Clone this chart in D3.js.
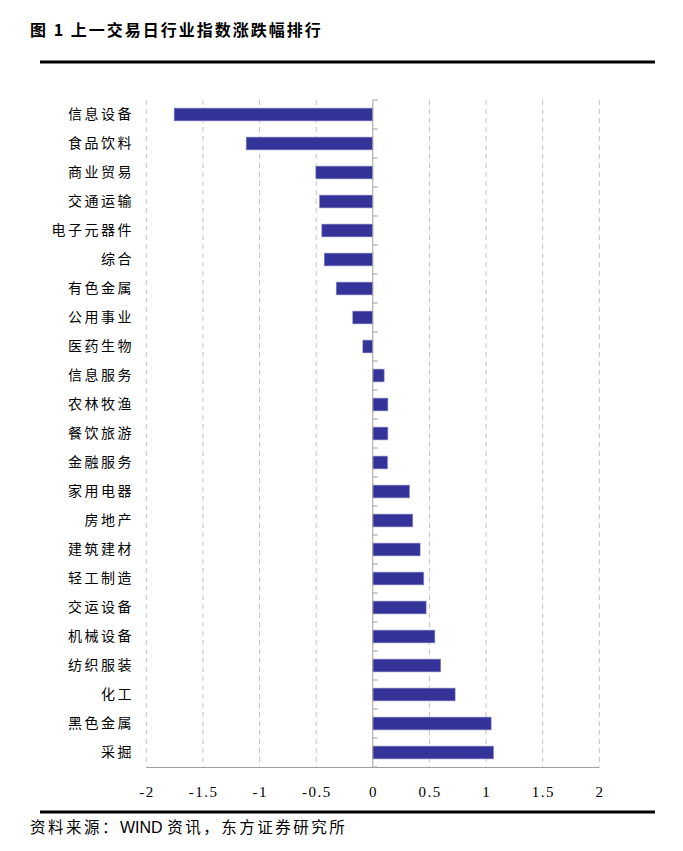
<!DOCTYPE html>
<html>
<head>
<meta charset="utf-8">
<script src="https://cdn.jsdelivr.net/npm/d3@7"></script>
<style>
html,body{margin:0;padding:0;background:#fff;}
svg{display:block;}
</style>
</head>
<body>
<svg id="chart" width="683" height="851"></svg>
<script>
const categories = ["信息设备","食品饮料","商业贸易","交通运输","电子元器件","综合","有色金属","公用事业","医药生物","信息服务","农林牧渔","餐饮旅游","金融服务","家用电器","房地产","建筑建材","轻工制造","交运设备","机械设备","纺织服装","化工","黑色金属","采掘"];
const values = [-1.754,-1.118,-0.503,-0.471,-0.45,-0.429,-0.323,-0.177,-0.088,0.10,0.133,0.133,0.13,0.324,0.353,0.418,0.45,0.471,0.548,0.60,0.727,1.045,1.066];
const tickValues = [-2,-1.5,-1,-0.5,0,0.5,1,1.5,2];
const tickLabels = ["-2","-1.5","-1","-0.5","0","0.5","1","1.5","2"];
const titleText = "图 1 上一交易日行业指数涨跌幅排行";
const sourceParts = ["资料来源：", "WIND ", "资讯，东方证券研究所"];

const svg = d3.select("#chart");
const x = d3.scaleLinear().domain([-2,2]).range([146.3,599.3]);
const y = d3.scaleBand().domain(categories).range([100,767]).paddingInner(0.56).paddingOuter(0.28);

// title
svg.append("text").attr("x",30).attr("y",36)
  .attr("font-family","'Noto Sans CJK SC', sans-serif").attr("font-weight","bold")
  .attr("font-size",16).attr("letter-spacing","2px").attr("fill","#000").text(titleText);
svg.append("line").attr("x1",40).attr("x2",655).attr("y1",62).attr("y2",62)
  .attr("stroke","#000").attr("stroke-width",3);

// gridlines
svg.append("g").selectAll("line").data(tickValues.filter(d=>d!==0)).join("line")
  .attr("x1",d=>x(d)).attr("x2",d=>x(d)).attr("y1",100).attr("y2",767)
  .attr("stroke","#c4c4c4").attr("stroke-width",1).attr("stroke-dasharray","5,4");

// bottom axis line
svg.append("line").attr("x1",x(-2)).attr("x2",x(2)).attr("y1",767.5).attr("y2",767.5)
  .attr("stroke","#a0a0a0").attr("stroke-width",1);

// bars
svg.append("g").selectAll("rect").data(values).join("rect")
  .attr("x",d=>x(Math.min(0,d))).attr("width",d=>Math.abs(x(d)-x(0)))
  .attr("y",(d,i)=>y(categories[i])).attr("height",y.bandwidth())
  .attr("fill","#333399").attr("stroke","#8a8ac4").attr("stroke-width",0.6);

// zero axis
svg.append("line").attr("x1",x(0)).attr("x2",x(0)).attr("y1",100).attr("y2",767.5)
  .attr("stroke","#a0a0a0").attr("stroke-width",1);
const step = y.step();
const bounds = categories.map(c=>y(c)-y.paddingInner()*step/2).concat([y(categories[categories.length-1])+y.bandwidth()+y.paddingInner()*step/2]);
svg.append("g").selectAll("line").data(bounds).join("line")
  .attr("x1",x(0)).attr("x2",x(0)+5).attr("y1",d=>d).attr("y2",d=>d)
  .attr("stroke","#a0a0a0").attr("stroke-width",1);

// category labels
svg.append("g").selectAll("text").data(categories).join("text")
  .attr("x",134).attr("y",c=>y(c)+y.bandwidth()/2)
  .attr("dy","0.35em").attr("text-anchor","end")
  .attr("font-family","'Noto Sans CJK SC', sans-serif").attr("font-size",14)
  .attr("letter-spacing","2.5px").attr("fill","#000").text(c=>c);

// x tick labels
svg.append("g").selectAll("text").data(tickValues).join("text")
  .attr("x",d=>x(d)+0.75).attr("y",797).attr("text-anchor","middle")
  .attr("font-family","'Liberation Serif', serif").attr("font-size",15)
  .attr("letter-spacing","1.5px").attr("fill","#000").text((d,i)=>tickLabels[i]);

// bottom rule and source
svg.append("line").attr("x1",40).attr("x2",655).attr("y1",812).attr("y2",812)
  .attr("stroke","#000").attr("stroke-width",3);
const src = svg.append("text").attr("x",30).attr("y",833)
  .attr("font-family","'Noto Sans CJK SC', sans-serif").attr("font-size",15.5)
  .attr("fill","#000");
src.selectAll("tspan").data(sourceParts).join("tspan")
  .attr("letter-spacing",(d,i)=>i===1?"0px":"2.5px")
  .attr("font-family",(d,i)=>i===1?"'Liberation Sans', Arial, sans-serif":null)
  .attr("font-size",(d,i)=>i===1?16:null)
  .text(d=>d);
</script>
</body>
</html>
